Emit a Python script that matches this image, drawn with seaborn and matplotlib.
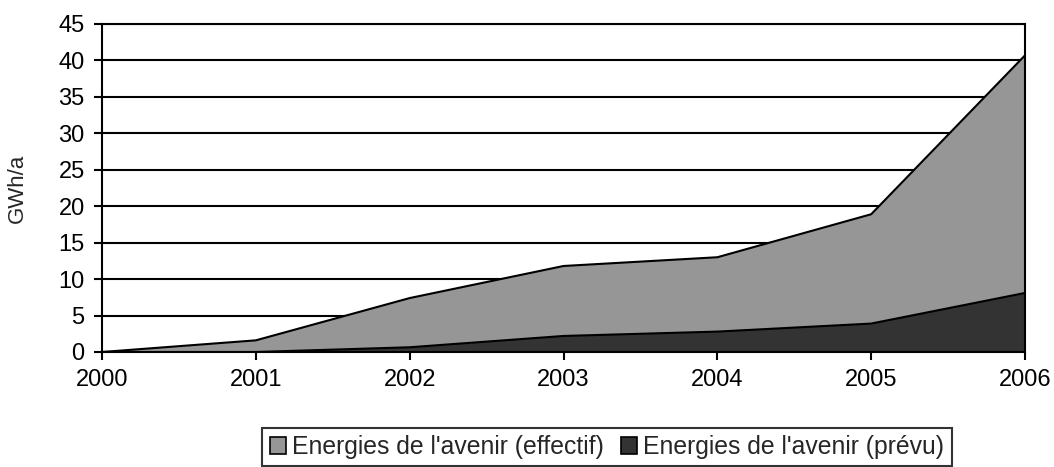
import matplotlib
matplotlib.use('Agg')

import matplotlib.pyplot as plt
import seaborn as sns
import pandas as pd
from matplotlib.patches import Patch

years = [2000, 2001, 2002, 2003, 2004, 2005, 2006]
effectif = [0, 1.6, 7.4, 11.8, 13.0, 18.9, 40.7]
prevu = [0, 0, 0.65, 2.2, 2.8, 3.9, 8.1]
labels = ["Energies de l'avenir (effectif)", "Energies de l'avenir (prévu)"]
colors = ["#969696", "#333333"]

df = pd.DataFrame({"year": years, "effectif": effectif, "prevu": prevu})

sns.set_style("white")
plt.rcParams['font.family'] = ['Liberation Sans', 'DejaVu Sans']

fig = plt.figure(figsize=(10.54, 4.67), dpi=100)
ax = fig.add_axes([102 / 1054, 1 - 352 / 467, (1025 - 102) / 1054, (352 - 24) / 467])

# areas overlap, the planned one drawn in front
for col, c in zip(["effectif", "prevu"], colors):
    ax.fill_between(df["year"], 0, df[col], color=c, zorder=2)
    sns.lineplot(data=df, x="year", y=col, color="black", lw=1.5, ax=ax, zorder=3)

ax.set_xlim(2000, 2006)
ax.set_ylim(0, 45)
ax.set_xticks(years)
ax.set_yticks(range(0, 46, 5))
ax.yaxis.grid(True, color="black", lw=1.5, zorder=0)
ax.set_axisbelow(True)
for s in ["left", "bottom", "right", "top"]:
    ax.spines[s].set_color("black")
    ax.spines[s].set_linewidth(1.5)
    ax.spines[s].set_zorder(4)
ax.tick_params(axis="both", direction="out", length=5.5, width=1.5, color="black",
               labelsize=17, labelcolor="black", left=True, bottom=True)
ax.tick_params(axis="x", pad=7)
ax.tick_params(axis="y", pad=7)
ax.set_xlabel("")
ax.set_ylabel("GWh/a", fontsize=16)
ax.yaxis.set_label_coords(-0.08, 0.5)

handles = [Patch(facecolor=c, edgecolor="black", lw=1.2) for c in colors]
leg = fig.legend(handles, labels, loc="center", bbox_to_anchor=(607 / 1054, 1 - 447 / 467),
                 ncol=2, fontsize=17.8, frameon=True, fancybox=False,
                 handlelength=0.65, handleheight=0.65, handletextpad=0.25,
                 columnspacing=0.7, borderpad=0.3, borderaxespad=0)
leg.get_frame().set_edgecolor("black")
leg.get_frame().set_linewidth(1.5)

fig.savefig("out.png", dpi=100)
